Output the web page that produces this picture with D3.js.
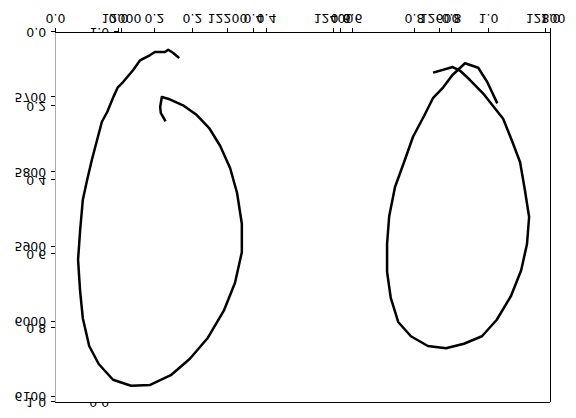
<!DOCTYPE html>
<html><head><meta charset="utf-8">
<script src="https://cdn.jsdelivr.net/npm/d3@7"></script>
<style>html,body{margin:0;padding:0;background:#fff;} svg{display:block;}</style>
</head><body>
<script>
// Data (x: 12000..12800 scale, y: 5700..6100 scale)
const leftX = [12108,12098,12089,12083,12064,12055,12036,12023,12004,11994,11985,11974,11964,11955,11945,11936,11928,11923,11919,11923,11928,11940,11958,11985,12019,12055,12094,12130,12164,12194,12215,12228,12228,12219,12206,12187,12166,12143,12117,12092,12077,12074,12075,12083];
const leftY = [5647,5641,5637,5640,5640,5644,5651,5664,5680,5687,5701,5720,5733,5757,5784,5811,5837,5877,5917,5960,5995,6032,6056,6077,6085,6084,6071,6049,6021,5985,5948,5907,5869,5828,5795,5765,5741,5724,5711,5703,5700,5713,5721,5731];
const rightX = [12591,12626,12640,12658,12683,12721,12738,12753,12762,12770,12766,12755,12736,12709,12681,12647,12613,12579,12547,12523,12509,12502,12502,12506,12517,12534,12551,12572,12589,12608,12625,12649,12674,12691,12709];
const rightY = [5667,5660,5665,5677,5695,5729,5759,5787,5824,5860,5896,5931,5965,5997,6019,6029,6035,6032,6019,6000,5968,5933,5896,5859,5820,5787,5753,5725,5701,5687,5671,5655,5661,5680,5707];
const unitTicks = [0,0.2,0.4,0.6,0.8,1.0];
const xDataTicks = [12000,12200,12400,12600,12800];
const yDataTicks = [5700,5800,5900,6000,6100];

const W = 576, H = 418;
const L = 55, R = 550, T = 16, B = 386;
const FONT = "DejaVu Sans", FS = 12.5, TS = 4.375, TP = 4.375;

const xA = d3.scaleLinear().domain([0,1]).range([L,R]);
const yA = d3.scaleLinear().domain([0,1]).range([B,T]);
const xB = d3.scaleLinear().domain([0,1]).range([118,488]);
const yB = d3.scaleLinear().domain([0,1]).range([T,B]);
const xC = d3.scaleLinear().domain([11875.5,12809.4]).range([L,R]);
const yC = d3.scaleLinear().domain([5613.3,6106.7]).range([B,T]);

const svg = d3.select("body").append("svg").attr("width",W).attr("height",H);
svg.append("rect").attr("width",W).attr("height",H).attr("fill","#fff");
// whole figure is shown vertically mirrored
const g = svg.append("g").attr("transform",`translate(0,${H}) scale(1,-1)`);

function style(ax){
  ax.select(".domain").remove();
  ax.selectAll("text").attr("font-family",FONT).attr("font-size",FS).attr("fill","#000");
  ax.selectAll("line").attr("stroke","#000").attr("stroke-width",1).attr("shape-rendering","crispEdges");
}
const f1 = d3.format(".1f");

// hidden axis (mostly covered by the main frame)
const axBy = g.append("g").attr("transform",`translate(118,0)`)
  .call(d3.axisLeft(yB).tickValues(unitTicks).tickFormat(f1).tickSize(TS).tickPadding(TP));
style(axBy);

// main frame background
g.append("rect").attr("x",L).attr("y",T).attr("width",R-L).attr("height",B-T).attr("fill","#fff");

// curves
const line = d3.line().x(d=>xC(d[0])).y(d=>yC(d[1]));
[[leftX,leftY],[rightX,rightY]].forEach(([xs,ys])=>{
  g.append("path").datum(xs.map((x,i)=>[x,ys[i]])).attr("d",line)
   .attr("fill","none").attr("stroke","#000").attr("stroke-width",2.5)
   .attr("stroke-linejoin","round").attr("stroke-linecap","square");
});

// spines
g.append("line").attr("x1",L).attr("x2",L).attr("y1",T).attr("y2",B).attr("stroke","#aaa").attr("stroke-width",1).attr("shape-rendering","crispEdges");
g.append("line").attr("x1",R).attr("x2",R).attr("y1",T).attr("y2",B).attr("stroke","#000").attr("stroke-width",1).attr("shape-rendering","crispEdges");
g.append("line").attr("x1",L).attr("x2",R).attr("y1",T).attr("y2",T).attr("stroke","#000").attr("stroke-width",1).attr("shape-rendering","crispEdges");
g.append("line").attr("x1",L).attr("x2",R).attr("y1",B).attr("y2",B).attr("stroke","#000").attr("stroke-width",1).attr("shape-rendering","crispEdges");

// bottom axes
[[xA,unitTicks,f1],[xB,unitTicks,f1],[xC,xDataTicks,d3.format("d")]].forEach(([s,tv,fmt])=>{
  const a = g.append("g").attr("transform",`translate(0,${B})`)
    .call(d3.axisBottom(s).tickValues(tv).tickFormat(fmt).tickSize(TS).tickPadding(TP));
  style(a);
});
// left axes
[[yA,unitTicks,f1],[yC,yDataTicks,d3.format("d")]].forEach(([s,tv,fmt])=>{
  const a = g.append("g").attr("transform",`translate(${L},0)`)
    .call(d3.axisLeft(s).tickValues(tv).tickFormat(fmt).tickSize(TS).tickPadding(TP));
  style(a);
});
</script>
</body></html>
